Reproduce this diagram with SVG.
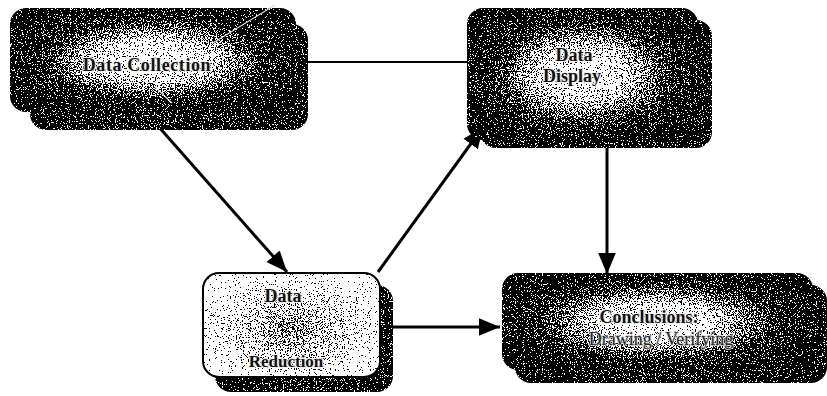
<svg xmlns="http://www.w3.org/2000/svg" width="827" height="396" viewBox="0 0 827 396">
<style>
.lbl{font-family:"Liberation Serif","Times New Roman",serif;font-weight:bold;fill:#111;text-anchor:middle;stroke:#f2f2f2;stroke-width:2;stroke-linejoin:round;paint-order:stroke}
.reg{font-weight:normal;fill:#262626;stroke:#dcdcdc;stroke-width:1.6}
.con{fill:none;stroke:#000;stroke-width:3}
.thin{fill:none;stroke:#000;stroke-width:1.8}
.grain{filter:url(#grain)}
</style>
<defs>
<radialGradient id="g" cx="0.5" cy="0.5" r="0.6">
<stop offset="0" stop-color="#eeeeee"/>
<stop offset="0.3" stop-color="#c4c4c4"/>
<stop offset="0.65" stop-color="#3c3c3c"/>
<stop offset="1" stop-color="#1a1a1a"/>
</radialGradient>
<radialGradient id="gb" cx="0.5" cy="0.5" r="0.7">
<stop offset="0" stop-color="#505050"/>
<stop offset="1" stop-color="#1e1e1e"/>
</radialGradient>
<radialGradient id="gw" cx="0.5" cy="0.55" r="0.55">
<stop offset="0" stop-color="#7a7a7a"/>
<stop offset="0.45" stop-color="#b8b8b8"/>
<stop offset="1" stop-color="#ffffff"/>
</radialGradient>
<filter id="grain" x="0" y="0" width="1" height="1" color-interpolation-filters="sRGB">
<feTurbulence type="fractalNoise" baseFrequency="0.85" numOctaves="2" seed="4" result="n"/>
<feColorMatrix in="n" type="matrix" values="1 0 0 0 0  1 0 0 0 0  1 0 0 0 0  0 0 0 0 1" result="ng"/>
<feComposite in="SourceGraphic" in2="ng" operator="arithmetic" k1="0" k2="1" k3="2.4" k4="-1.2" result="s"/>
<feComponentTransfer in="s" result="t">
<feFuncR type="discrete" tableValues="0 1"/>
<feFuncG type="discrete" tableValues="0 1"/>
<feFuncB type="discrete" tableValues="0 1"/>
</feComponentTransfer>
<feComposite in="t" in2="SourceGraphic" operator="in"/>
</filter>
<marker id="ah" viewBox="0 0 10 10" refX="10" refY="5" markerWidth="7" markerHeight="7" markerUnits="strokeWidth" orient="auto">
<path d="M0,0.8 L10,5 L0,9.2 z" fill="#000"/>
</marker>
</defs>

<g id="connectors">
<line class="thin" x1="300" y1="62" x2="468" y2="62"/>
<line class="con" x1="158" y1="126" x2="287" y2="272" marker-end="url(#ah)"/>
<line class="con" x1="378" y1="272" x2="483" y2="127" marker-end="url(#ah)"/>
<line class="con" x1="607" y1="148" x2="607" y2="274" marker-end="url(#ah)"/>
<line class="con" x1="390" y1="327" x2="500" y2="327" marker-end="url(#ah)"/>
</g>

<g id="data-collection">
<rect class="grain" x="30" y="24" width="278" height="106" rx="16" fill="url(#gb)"/>
<rect class="grain" x="10" y="8" width="286" height="104" rx="16" fill="url(#g)"/>
<line x1="213" y1="43" x2="275" y2="5" stroke="#e0e0e0" stroke-width="1.2"/>
<line x1="155" y1="87" x2="172" y2="103" stroke="#e0e0e0" stroke-width="1.2"/>
<text class="lbl" x="147" y="71" font-size="18" letter-spacing="0.6">Data Collection</text>
</g>

<g id="data-display">
<rect class="grain" x="480" y="20" width="232" height="128" rx="16" fill="url(#gb)"/>
<rect class="grain" x="467" y="8" width="231" height="132" rx="16" fill="url(#g)"/>
<text class="lbl" x="574" y="61" font-size="18">Data</text>
<text class="lbl" x="572" y="82" font-size="18">Display</text>
</g>

<g id="data-reduction">
<rect class="grain" x="215" y="285" width="178" height="107" rx="16" fill="url(#gb)"/>
<rect class="grain" x="203" y="273" width="177" height="104" rx="16" fill="url(#gw)"/>
<rect x="203" y="273" width="177" height="104" rx="16" fill="none" stroke="#000" stroke-width="2"/>
<text class="lbl" x="283" y="302" font-size="18">Data</text>
<text class="lbl" x="286" y="367" font-size="17">Reduction</text>
</g>

<g id="conclusions">
<rect class="grain" x="515" y="285" width="312" height="98" rx="16" fill="url(#gb)"/>
<rect class="grain" x="502" y="273" width="311" height="97" rx="16" fill="url(#g)"/>
<text class="lbl" x="649" y="323" font-size="18">Conclusions:</text>
<text class="lbl reg" x="661" y="345" font-size="18">Drawing / Verifying</text>
</g>
</svg>
